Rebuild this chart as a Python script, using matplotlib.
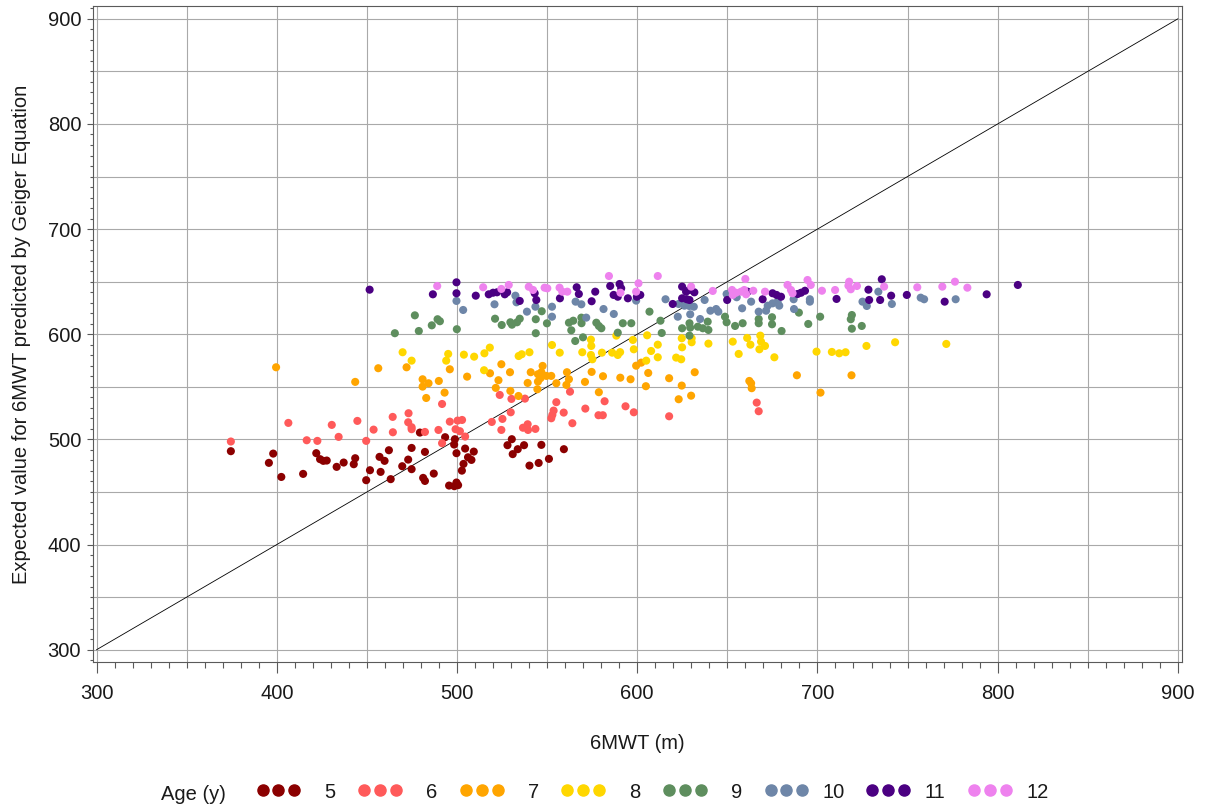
import matplotlib
matplotlib.use('Agg')
import matplotlib.pyplot as plt
from matplotlib.ticker import MultipleLocator
from matplotlib.lines import Line2D

plt.rcParams['font.family'] = ['Liberation Sans', 'DejaVu Sans']

# ---------------- data ----------------
ages = ['5', '6', '7', '8', '9', '10', '11', '12']
colors = ['#8B0000', '#FF5A5A', '#FFA500', '#FFD700', '#5E8E5E', '#6E86A8', '#4B0082', '#EE82EE']

x5 = [374.5, 398, 395.6, 402.5, 414.6, 421.9, 424, 425.8, 427.7, 433.2, 437.1, 443.5, 442.7, 449.6, 451.7, 457, 459.8, 462.2, 457.6, 463.2,
      479.4, 474.8, 482.2, 472.9, 469.6, 474.8, 481.2, 482.2, 487.1, 493.4, 498.8, 498.4, 504.5, 509.3, 499.7, 506.1, 508, 503.6, 502.7, 495.6,
      499.7, 500.6, 498.5, 530.4, 528, 533.7, 537.2, 530.9, 546.8, 551, 540.2, 545.3, 559.3]
y5 = [488.8, 486.5, 477.7, 464.3, 467.2, 486.9, 481.2, 479.6, 479.9, 473.9, 478, 482.1, 476.4, 461.2, 470.7, 483.4, 479.6, 489.7, 469.1, 462.2,
      506.5, 491.9, 488.1, 480.8, 474.5, 471.7, 463.4, 460.5, 467.5, 502.1, 500.2, 495.1, 491.3, 488.4, 486.9, 483, 480.5, 476.7, 470.3, 456.1,
      459, 456.5, 455.5, 500.2, 494.5, 490.7, 494.5, 486, 494.8, 481.5, 475.1, 477.6, 490.7]

x6 = [406.4, 374.5, 416.6, 422.5, 430.5, 434.3, 444.7, 453.7, 449.6, 464.3, 464.4,
      473.1, 472.9, 474.8, 474.8, 482.2, 489.7, 491.7, 491.7, 496, 500.3, 502.8, 499.2, 501.6, 504.5, 519.3, 525.2, 524.6, 523.7, 530.2,
      529.8, 537.7, 536.6, 539.2, 539.4, 543.5, 552.3, 552.9, 553.6, 555.1,
      559.2, 562.7, 564, 571.2, 581.9, 578.5, 580.9, 593.5, 598.1, 617.7, 666.3, 667.4]
y6 = [515.7, 498, 499.2, 498.6, 513.8, 502.4, 517.6, 509.3, 498.6, 521.4, 506.8,
      524.9, 516.3, 511.6, 509.7, 507.1, 509, 533.7, 496.4, 516.9, 517.9, 518.5, 509.7, 507.8, 502.7, 516.6, 519.5, 509, 542.3, 538.5,
      525.8, 538.8, 511.1, 514.4, 509, 510, 520.1, 523.3, 527.4, 535.4,
      525.5, 545.4, 515.4, 529.3, 536.3, 523, 523, 531.5, 525.8, 522, 535, 526.8]

x7 = [399.6, 456.3, 443.5, 472, 480.9, 480.9, 484.2, 489.9, 493.1, 482.9, 496, 505.6, 518.3, 524.6, 529.4, 523, 521.5, 529.6, 534.1,
      540.9, 539.2, 544.9, 546.3, 544.9, 547.5, 546.8, 544.6, 549.6, 552.3, 555.1,
      561, 562.1, 560.7, 571, 574.7, 581, 578.7, 590.6, 596.3, 599.4, 602.2, 606.1, 604.8, 617.7, 624.7, 631.9, 623, 629.9,
      662.2, 663.2, 663.5, 688.6, 718.9, 701.7]
y7 = [568.6, 567.7, 554.7, 568.6, 557.2, 550.2, 553.4, 555.6, 544.5, 539.4, 566.7, 559.7, 562.9, 571.5, 563.9, 556.3, 549, 546.1, 541.3,
      563.9, 553.7, 562, 558.2, 555, 569.9, 563.9, 547.7, 560.4, 560.4, 553.4,
      563.9, 557.2, 551.8, 554.7, 564.2, 560.1, 544.9, 558.7, 557.2, 570.1, 573, 563.2, 550.6, 558.2, 551.2, 563.9, 538.2, 541.6,
      555.6, 553.4, 548.7, 561, 561, 544.5]

x8 = [469.8, 474.8, 495.1, 494, 503.8, 509.5, 515.2, 518.2, 515, 534.2, 535.9, 540.2, 552.7, 557, 569.5, 574.3, 574.5, 574.3, 575.1,
      580.4, 586.1, 588.4, 589.2, 590.5, 598.1, 607.7, 611.4, 611.4, 621.6, 624.4, 624.9, 639.5, 653, 656.3,
      597.6, 605.5, 605, 624.7, 630.2, 630.2, 661, 662.8, 668.3, 668.7, 667.8, 670.9, 676.1, 699.5,
      708, 712.1, 715.6, 727.2, 743.1, 771.5]
y8 = [582.9, 574.9, 581.3, 574.9, 580.6, 578.7, 581.9, 587.3, 565.8, 579.3, 581, 582.9, 589.8, 582.5, 582.9, 594.9, 588.9, 580.3, 576.2,
      582.5, 582.5, 598.7, 580.3, 583, 585.7, 584.1, 590.1, 578.1, 577.8, 576.2, 587.6, 591.1, 593, 581.3,
      594.6, 599, 574.9, 596.2, 596.2, 592.4, 596.5, 590.1, 598.7, 593, 585.7, 588.9, 578.1, 583.5,
      583.2, 581.9, 582.9, 588.9, 592.4, 590.8]

x9 = [465.5, 476.6, 478.8, 486, 489.2, 490.5, 499.9, 521.1, 524.8, 529.6, 530.5, 533.3, 534.8, 543.7, 543.7, 547, 549.9,
      562.1, 564.5, 563.4, 565.6, 569, 569.1, 569.9, 577.3, 578.7, 580.1, 589.2,
      592, 596.7, 606.8, 612.9, 613.6, 624.9, 629, 629.4, 629, 633.6, 636.4, 639.5, 639.1, 648.7, 649.6, 654.3, 658.5,
      667.4, 667.4, 674.8, 674.8, 680.1, 689.7, 694.9, 701.5, 718.5, 719.1, 719.1, 724.6]
y9 = [601, 618, 603.1, 608.5, 614.3, 612.4, 604.8, 614.8, 608.8, 611.4, 609.1, 611.4, 614.8, 614.3, 601, 621.9, 610.4,
      611, 612.9, 603.8, 593.6, 615.8, 610.5, 597.1, 611, 607.9, 605.7, 601.5,
      610.5, 610.5, 621.5, 612.9, 601.2, 605.7, 610.5, 606.3, 598.7, 607.2, 605.7, 604.1, 612, 616.7, 611.4, 607.9, 610.5,
      614.5, 610.5, 616.2, 609.5, 603.1, 620.6, 609.8, 616.7, 614.3, 618.3, 605.3, 607.9]

x10 = [499.7, 503.4, 520.8, 532.4, 533, 538.8, 543.5, 552.7, 552.7, 565.8, 569, 571.7, 581.3,
       587, 599.4, 615.7, 623, 626.2, 628.9, 631.4, 622.5, 629.4, 637.4, 634.9, 640.6, 643.8, 645, 649.6, 655.2, 658.2,
       663.2, 667.4, 671.5, 672.4, 675.1, 677.9, 678.8, 686.8, 687, 695.8, 695.8,
       725, 727.4, 733.8, 741.3, 757.3, 759.2, 776.7]
y10 = [631.7, 623.1, 628.5, 636.7, 630.4, 621.5, 626.2, 626.2, 616.7, 631, 628.5, 615.8, 624,
       619.3, 632, 633.3, 628.8, 627.2, 626.9, 626.2, 616.7, 619, 632.6, 614.5, 622.4, 624, 621.5, 638.3, 635.2, 624.7,
       631, 621.5, 622.4, 627.2, 629.4, 631, 627.2, 633.3, 624, 631, 633.3,
       631, 626.9, 640.5, 628.8, 634.8, 633.3, 633.3]

x11 = [451.5, 486.6, 499.7, 499.7, 510.4, 517.6, 520, 522.2, 526.5, 527.8, 534.8, 543.1, 544, 557.1, 566.4, 567.6, 574.7, 576.7,
       585, 590.2, 591.1, 586.9, 589.2, 594.8, 599.8, 601.7, 619.7, 624.9, 627.1, 628.9, 631.7, 624.9, 627.5, 629,
       649.9, 661.3, 669.6, 675.1, 677.3, 679.8, 689, 690.9, 693.1,
       710.6, 728.3, 728.7, 734.8, 735.7, 740.9, 749.6, 770.6, 793.9, 811.2]
y11 = [642.4, 638, 649.4, 639, 636.7, 638, 639.5, 639.9, 638, 639.9, 631.7, 639, 632.6, 634.2, 644.7, 638.3, 631.4, 640.5,
       645.9, 647.8, 643.7, 637.4, 635.7, 634.2, 635.7, 637.4, 628.8, 645.3, 640.5, 642.1, 639.9, 634.2, 633.3, 632.6,
       632.6, 640.5, 633.3, 639, 637.4, 635.7, 638.3, 639.5, 641.4,
       633.6, 642.4, 632.6, 632.6, 652.3, 636.7, 637.4, 631, 638, 646.9]

x12 = [489, 514.5, 524.6, 528.7, 539.8, 542.2, 548.6, 550.1, 556.9, 558.4, 561.2,
       584.3, 600.7, 590.7, 599.4, 611.4, 629.9, 641.9, 652.6, 653, 654.8, 657.6, 659.4, 660.4, 660, 664.4, 670.9,
       683.4, 685.3, 686.2, 694.5, 696.3,
       702.5, 709.8, 717.6, 717.2, 718.5, 721.9, 737, 755.4, 769.3, 776.3, 783.2]
y12 = [645.9, 644.7, 643.1, 646.9, 645.2, 642.1, 644.3, 643.7, 644.3, 640.5, 640.5,
       655.4, 648.5, 639.5, 640.5, 655.4, 645.3, 641.2, 642.1, 637.4, 639.5, 640.5, 642.1, 638, 652.6, 641.4, 640.5,
       646.9, 642.1, 639, 651.6, 646.9,
       641.4, 642.1, 650, 646.2, 642.8, 645.9, 645.3, 644.7, 645.3, 650, 644.3]

diag_x = [300, 900]
diag_y = [300, 900]

x_ticks = [300, 400, 500, 600, 700, 800, 900]
y_ticks = [300, 400, 500, 600, 700, 800, 900]
grid_vals = [300, 350, 400, 450, 500, 550, 600, 650, 700, 750, 800, 850, 900]

series = [(x5, y5), (x6, y6), (x7, y7), (x8, y8), (x9, y9), (x10, y10), (x11, y11), (x12, y12)]

# ---------------- figure ----------------
W, H = 1206, 811
FS = 14.5
TXT = '#1a1a1a'
fig = plt.figure(figsize=(W / 100, H / 100), dpi=100)
ax = fig.add_axes([93 / W, 149 / H, 1089 / W, 656 / H])

ax.set_xlim(298.0, 902.3)
ax.set_ylim(288.3, 912.2)

grid_col = '#A9A9A9'
for g in grid_vals:
    ax.axvline(g, color=grid_col, lw=0.8, zorder=0)
    ax.axhline(g, color=grid_col, lw=0.8, zorder=0)

ax.plot(diag_x, diag_y, color='#000000', lw=0.6, zorder=1)

for (xs, ys), c in zip(series, colors):
    ax.scatter(xs, ys, s=34, color=c, edgecolors='none', zorder=3)

ax.set_xticks(x_ticks)
ax.set_yticks(y_ticks)
ax.xaxis.set_minor_locator(MultipleLocator(10))
ax.yaxis.set_minor_locator(MultipleLocator(10))

spine_col = '#5A5A5A'
for s in ax.spines.values():
    s.set_color(spine_col)
    s.set_linewidth(0.8)

ax.tick_params(axis='x', which='major', length=8, width=0.8, color=spine_col, pad=8, labelsize=FS, labelcolor=TXT)
ax.tick_params(axis='x', which='minor', length=4.3, width=0.8, color=spine_col)
ax.tick_params(axis='y', which='major', length=4.5, width=0.8, color=spine_col, pad=4, labelsize=FS, labelcolor=TXT)
ax.tick_params(axis='y', which='minor', length=2.5, width=0.8, color=spine_col)

ax.set_xlabel('6MWT (m)', fontsize=FS, color=TXT, labelpad=22)
ax.set_ylabel('Expected value for 6MWT predicted by Geiger Equation', fontsize=FS, color=TXT, labelpad=12)

# legend: one fixed-width slot per age group
slot0 = 256.5 / W
slot_w = 101.6 / W
for i, (a, c) in enumerate(zip(ages, colors)):
    h = Line2D([], [], ls='none', marker='o', ms=8, mfc=c, mec=c)
    tp = 1.2 if len(a) == 1 else 0.72
    fig.legend([h], [a], loc='center left', bbox_to_anchor=(slot0 + i * slot_w, 1 - 792 / H),
               numpoints=3, frameon=False, handlelength=2.18, handletextpad=tp, borderpad=0,
               borderaxespad=0, fontsize=FS, labelcolor=TXT)
fig.text(193 / W, 1 - 795 / H, 'Age (y)', ha='center', va='center', fontsize=FS, color=TXT)

fig.savefig('out.png', dpi=100)
